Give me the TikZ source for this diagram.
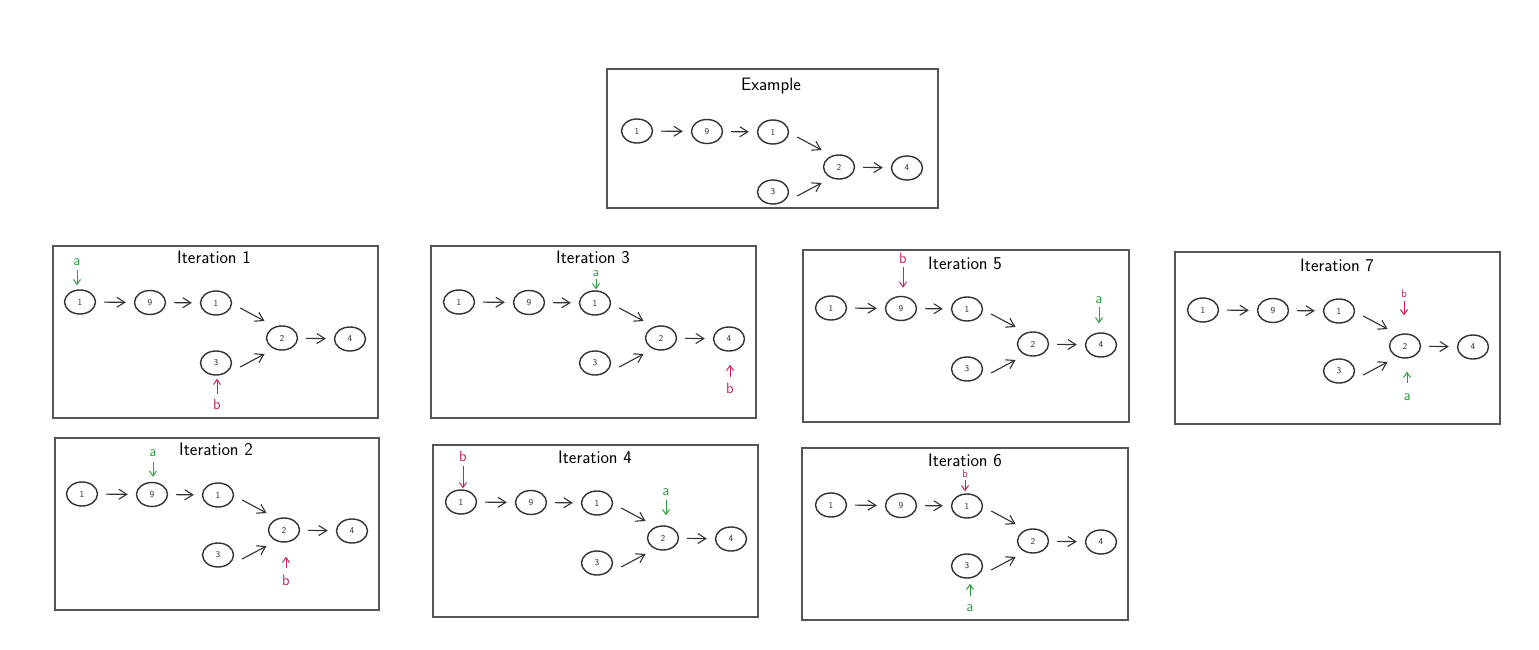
\documentclass[tikz,border=0pt]{standalone}
\usetikzlibrary{shapes.geometric,arrows.meta}
\definecolor{ink}{HTML}{333333}
\definecolor{frm}{HTML}{555555}
\definecolor{ga}{HTML}{2F9E44}
\definecolor{rb}{HTML}{C2255C}
\tikzset{
  vnode/.style={ellipse, draw=ink, line width=1.4pt, minimum width=31pt, minimum height=24pt,
    inner sep=0pt, font=\sffamily\fontsize{9}{10}\selectfont, text=ink},
  frame/.style={draw=frm, line width=1.1pt},
  ptitle/.style={font=\sffamily\fontsize{18}{20}\selectfont, text=black, inner sep=0pt},
  link/.style={draw=ink, line width=1.1pt, -{Straight Barb[length=8pt,width=10pt]},
    shorten <=8pt, shorten >=8pt},
  diag/.style={draw=ink, line width=1.1pt, -{Straight Barb[length=8pt,width=10pt]}},
  alab/.style={font=\sffamily\fontsize{15}{16}\selectfont, text=ga, inner sep=1pt,
    text height=7pt, text depth=0pt},
  blab/.style={font=\sffamily\fontsize{15}{16}\selectfont, text=rb, inner sep=1pt,
    text height=10pt, text depth=0pt},
  smallb/.style={font=\sffamily\fontsize{11}{12}\selectfont, text height=7pt},
  aptr/.style={draw=ga, line width=1pt, -{Straight Barb[length=5pt,width=7pt]}},
  bptr/.style={draw=rb, line width=1pt, -{Straight Barb[length=5pt,width=7pt]}},
}
\newcommand\panel[8]{%
  \draw[frame] (#2,#3) rectangle ++(#4,#5);
  \node[vnode] (#1p) at (#6,#7) {1};
  \node[vnode] (#1q) at ({#6+70},{#7+0.5}) {9};
  \node[vnode] (#1r) at ({#6+136},{#7+1}) {1};
  \node[vnode] (#1s) at ({#6+202},{#7+36}) {2};
  \node[vnode] (#1t) at ({#6+270},{#7+37}) {4};
  \node[vnode] (#1u) at ({#6+136},{#7+61}) {3};
  \node[ptitle] (#1title) at ({#6+134},{#7-45}) {#8};
  \draw[link] (#1p) -- (#1q);
  \draw[link] (#1q) -- (#1r);
  \draw[link] (#1s) -- (#1t);
  \draw[diag] ([xshift=8pt,yshift=-5pt]#1r.east) -- ([xshift=-6pt,yshift=8pt]#1s.north west);
  \draw[diag] ([xshift=8pt,yshift=-4pt]#1u.east) -- ([xshift=-6pt,yshift=-7pt]#1s.south west);
}
% pointer from a label above a node, down to it
% #1 colour key (a or b), #2 label name, #3 x, #4 y, #5 target node, #6 start gap, #7 end gap
\newcommand\pdown[8][]{%
  \node[#2lab,#1] (#3) at (#4,#5) {#2};
  \draw[#2ptr, shorten <=#7pt, shorten >=#8pt] (#3.south) -- (#3.south |- #6.north);
}
\newcommand\pup[8][]{%
  \node[#2lab,#1] (#3) at (#4,#5) {#2};
  \draw[#2ptr, shorten <=#7pt, shorten >=#8pt] (#3.north) -- (#3.north |- #6.south);
}
\begin{document}
\begin{tikzpicture}[x=1pt,y=-1pt]
  \useasboundingbox[fill=white] (0,0) rectangle (1539,650);
  \panel{ex}{607}{69}{331}{139}{637}{131}{Example}
  \panel{ia}{53}{246}{325}{172}{80}{302}{Iteration 1}
  \panel{ib}{55}{438}{324}{172}{82}{494}{Iteration 2}
  \panel{ic}{431}{246}{325}{172}{459}{302}{Iteration 3}
  \panel{id}{433}{445}{325}{172}{461}{502}{Iteration 4}
  \panel{ie}{803}{250}{326}{172}{831}{308}{Iteration 5}
  \panel{if}{802}{448}{326}{172}{831}{505}{Iteration 6}
  \panel{ig}{1175}{252}{325}{172}{1203}{310}{Iteration 7}
  % Iteration 1
  \pdown{a}{iaA}{77}{262}{iap}{3}{4}
  \pup{b}{iaB}{217}{404}{iau}{4}{3}
  % Iteration 2
  \pdown{a}{ibA}{153}{453}{ibq}{4}{5}
  \pup{b}{ibB}{286}{580}{ibs}{6}{14}
  % Iteration 3
  \pdown[font=\sffamily\fontsize{13}{14}\selectfont, text height=6pt]{a}{icA}{596}{273}{icr}{2}{1}
  \pup{b}{icB}{730}{388}{ict}{5}{13}
  % Iteration 4
  \pdown{b}{idB}{463}{456}{idp}{4}{1}
  \pdown{a}{idA}{666}{492}{ids}{3}{10}
  % Iteration 5
  \pdown{b}{ieB}{903}{258}{ieq}{3}{8}
  \pdown{a}{ieA}{1099}{300}{iet}{2}{9}
  % Iteration 6
  \pdown[smallb]{b}{ifB}{965}{474}{ifr}{1}{2}
  \pup{a}{ifA}{970}{608}{ifu}{7}{5}
  % Iteration 7
  \pdown[smallb]{b}{igB}{1404}{294}{igs}{2}{18}
  \pup{a}{igA}{1407}{397}{igs}{9}{13}
\end{tikzpicture}
\end{document}
